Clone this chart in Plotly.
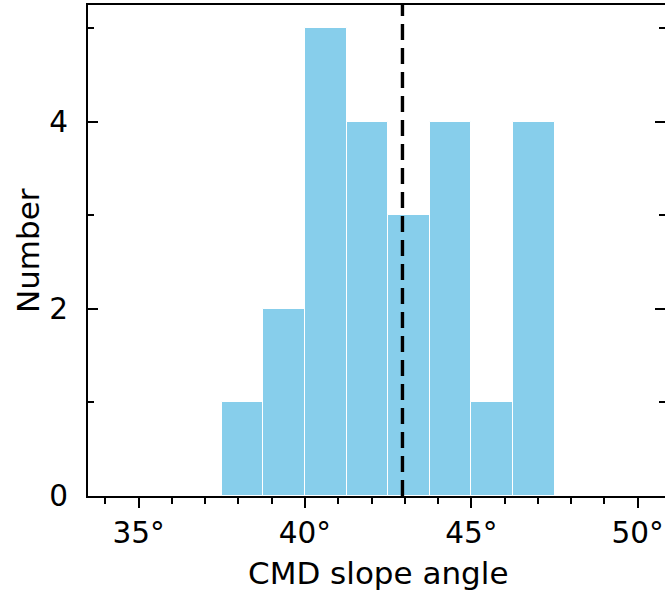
import plotly.graph_objects as go

# Histogram of CMD slope angles (degrees)
bin_edges = [37.5, 38.75, 40.0, 41.25, 42.5, 43.75, 45.0, 46.25, 47.5]
counts = [1, 2, 5, 4, 3, 4, 1, 4]
reference_angle = 42.93

x_major_ticks = [35, 40, 45, 50]
x_tick_labels = ["35°", "40°", "45°", "50°"]
y_major_ticks = [0, 2, 4]

centers = [(a + b) / 2 for a, b in zip(bin_edges[:-1], bin_edges[1:])]
widths = [b - a for a, b in zip(bin_edges[:-1], bin_edges[1:])]

FONT = "DejaVu Sans"
FS_TITLE = 31
FS_TICK = 29.5
W, H = 665, 596
ML, MR, MT, MB = 88, 0, 5, 100
x_range = [33.48, 50.82]
y_range = [0, 5.25]

fig = go.Figure()
fig.add_trace(go.Bar(
    x=centers, y=counts, width=widths,
    marker=dict(color="#87CEEB", line=dict(color="white", width=1)),
    showlegend=False, hoverinfo="skip",
))
# invisible trace so the right-hand tick axis is drawn
fig.add_trace(go.Scatter(x=[x_range[0]], y=[0], yaxis="y2", mode="markers",
                         marker=dict(opacity=0), showlegend=False, hoverinfo="skip"))

fig.add_shape(type="line", xref="x", yref="paper",
              x0=reference_angle, x1=reference_angle, y0=0, y1=1,
              line=dict(color="black", width=3.4, dash="16px,8px"))

fig.update_layout(
    width=W, height=H,
    margin=dict(l=ML, r=MR, t=MT, b=MB, pad=0),
    plot_bgcolor="white", paper_bgcolor="white",
    bargap=0,
    font=dict(family=FONT, size=FS_TICK, color="black"),
    xaxis=dict(
        range=x_range, tickmode="array", tickvals=x_major_ticks, ticktext=x_tick_labels,
        ticks="outside", ticklen=10, tickwidth=2, tickcolor="black",
        showline=True, linecolor="black", linewidth=2, mirror=True,
        showgrid=False, zeroline=False,
        tickfont=dict(family=FONT, size=FS_TICK),
        minor=dict(dtick=1, tick0=35, ticks="outside", ticklen=6, tickwidth=1.5,
                   tickcolor="black", showgrid=False),
    ),
    yaxis=dict(
        range=y_range, tickmode="array", tickvals=y_major_ticks,
        ticks="inside", ticklen=10, tickwidth=2, tickcolor="black",
        showline=True, linecolor="black", linewidth=2,
        showgrid=False, zeroline=False,
        tickfont=dict(family=FONT, size=FS_TICK),
        ticklabelstandoff=12,
        minor=dict(dtick=1, tick0=0, ticks="inside", ticklen=6, tickwidth=1.5,
                   tickcolor="black", showgrid=False),
    ),
    yaxis2=dict(
        range=y_range, overlaying="y", side="right", anchor="x",
        tickmode="array", tickvals=y_major_ticks, showticklabels=False,
        ticks="inside", ticklen=10, tickwidth=2, tickcolor="black",
        showline=False, showgrid=False, zeroline=False,
        minor=dict(dtick=1, tick0=0, ticks="inside", ticklen=6, tickwidth=1.5,
                   tickcolor="black", showgrid=False),
    ),
)

plot_w = W - ML - MR
plot_h = H - MT - MB
fig.add_annotation(text="Number", xref="paper", yref="paper",
                   x=(28 - ML) / plot_w, y=(H - MB - 251) / plot_h,
                   xanchor="center", yanchor="middle", textangle=-90,
                   showarrow=False, font=dict(family=FONT, size=FS_TITLE, color="black"))
fig.add_annotation(text="CMD slope angle", xref="paper", yref="paper",
                   x=(378 - ML) / plot_w, y=(H - MB - 573) / plot_h,
                   xanchor="center", yanchor="middle",
                   showarrow=False, font=dict(family=FONT, size=FS_TITLE, color="black"))

fig.write_html("out.html")
